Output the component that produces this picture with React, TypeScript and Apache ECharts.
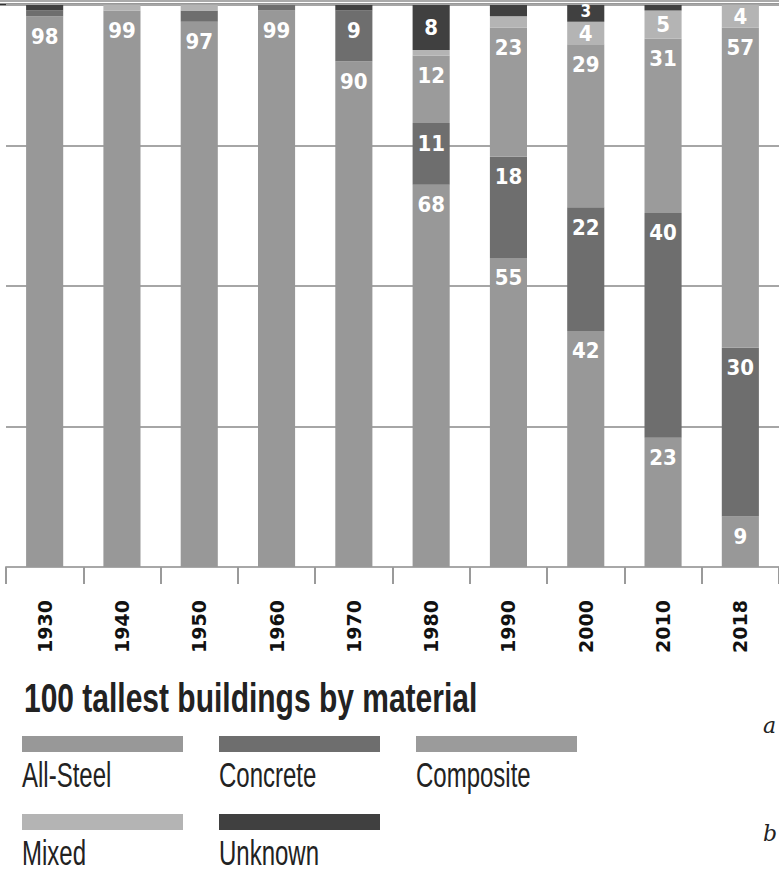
import React, { useEffect, useRef } from 'react';
import * as echarts from 'echarts';

const years = ['1930', '1940', '1950', '1960', '1970', '1980', '1990', '2000', '2010', '2018'];
const allSteel = [98, 99, 97, 99, 90, 68, 55, 42, 23, 9];
const concrete = [1, 0, 2, 1, 9, 11, 18, 22, 40, 30];
const composite = [0, 0, 0, 0, 0, 12, 23, 29, 31, 57];
const mixed = [0, 1, 1, 0, 0, 1, 2, 4, 5, 4];
const unknown = [1, 0, 0, 0, 1, 8, 2, 3, 1, 0];

const seriesNames = ['All-Steel', 'Concrete', 'Composite', 'Mixed', 'Unknown'];
const seriesColors = ['#989898', '#6e6e6e', '#9b9b9b', '#b4b4b4', '#404040'];
const seriesData = [allSteel, concrete, composite, mixed, unknown];
const labelPositions = ['insideTop', 'insideTop', 'insideTop', 'inside', 'inside'];

const titleText = '100 tallest buildings by material';

export default function App() {
  const ref = useRef<HTMLDivElement>(null);
  useEffect(() => {
    document.body.style.margin = '0';
    const chart = echarts.init(ref.current as HTMLDivElement, null, { renderer: 'svg' });

    const labelFont = '"Liberation Sans Narrow", "DejaVu Sans Condensed", "Liberation Sans", sans-serif';
    const textFont = '"Liberation Sans", "Open Sans", sans-serif';

    const legendPos = [
      { x: 22, y: 736 },
      { x: 219, y: 736 },
      { x: 416, y: 736 },
      { x: 22, y: 814 },
      { x: 219, y: 814 },
    ];

    const legendGraphics: any[] = [];
    seriesNames.forEach((name, i) => {
      const p = legendPos[i];
      legendGraphics.push({
        type: 'rect',
        shape: { x: p.x, y: p.y, width: 161, height: 16 },
        style: { fill: seriesColors[i] },
      });
      legendGraphics.push({
        type: 'text',
        x: p.x,
        y: p.y + 21,
        scaleY: 1.45,
        style: {
          text: name,
          fill: '#222',
          font: `24px ${textFont}`,
          textVerticalAlign: 'top',
        },
      });
    });

    // a thin Unknown segment gets a smaller label nudged upward, as in the source
    const buildData = (arr: number[], i: number) =>
      arr.map((v) =>
        i === 4 && v >= 3 && v < 5
          ? { value: v, label: { offset: [0, -2], fontSize: 17, lineHeight: 14 } }
          : v
      );

    const option: any = {
      animation: false,
      backgroundColor: '#ffffff',
      grid: { left: 6, top: 5, width: 774, height: 562, containLabel: false },
      xAxis: {
        type: 'category',
        data: years,
        axisLine: { show: true, lineStyle: { color: '#a8a8a8', width: 2 } },
        axisTick: { show: true, length: 17, lineStyle: { color: '#9a9a9a', width: 2 } },
        axisLabel: {
          rotate: 90,
          margin: 33,
          fontSize: 19,
          fontWeight: 'bold',
          fontFamily: '"DejaVu Sans", sans-serif',
          color: '#111',
        },
      },
      yAxis: {
        type: 'value',
        min: 0,
        max: 100,
        interval: 25,
        axisLabel: { show: false },
        axisLine: { show: false },
        axisTick: { show: false },
        splitLine: { show: true, lineStyle: { color: '#a6a6a6', width: 2 } },
      },
      series: seriesNames.map((name, i) => ({
        name,
        type: 'bar',
        stack: 'total',
        barWidth: '48%',
        data: buildData(seriesData[i], i),
        itemStyle: { color: seriesColors[i] },
        label: {
          show: true,
          position: labelPositions[i],
          distance: 12,
          color: '#ffffff',
          fontSize: 22,
          lineHeight: 16,
          fontWeight: 'bold',
          fontFamily: labelFont,
          formatter: (p: any) => (p.value >= 3 ? String(p.value) : ''),
        },
      })),
      graphic: [
        { type: 'line', shape: { x1: 0, y1: 1, x2: 779, y2: 1 }, style: { stroke: '#555', lineWidth: 1 } },
        { type: 'line', shape: { x1: 0, y1: 4.5, x2: 779, y2: 4.5 }, style: { stroke: '#333', lineWidth: 2 } },
        {
          type: 'text',
          x: 24,
          y: 678,
          scaleY: 1.33,
          style: {
            text: titleText,
            fill: '#222',
            font: `bold 30px ${textFont}`,
            textVerticalAlign: 'top',
          },
        },
        ...legendGraphics,
        {
          type: 'text',
          x: 763,
          y: 714,
          style: { text: 'a', fill: '#222', font: 'italic 22px "DejaVu Serif", serif', textVerticalAlign: 'top' },
        },
        {
          type: 'text',
          x: 763,
          y: 822,
          style: { text: 'b', fill: '#222', font: 'italic 22px "DejaVu Serif", serif', textVerticalAlign: 'top' },
        },
      ],
    };
    chart.setOption(option);
    return () => chart.dispose();
  }, []);
  return (
    <div
      ref={ref}
      style={{ width: 779, height: 874, position: 'absolute', left: 0, top: 0, background: '#fff' }}
    />
  );
}
